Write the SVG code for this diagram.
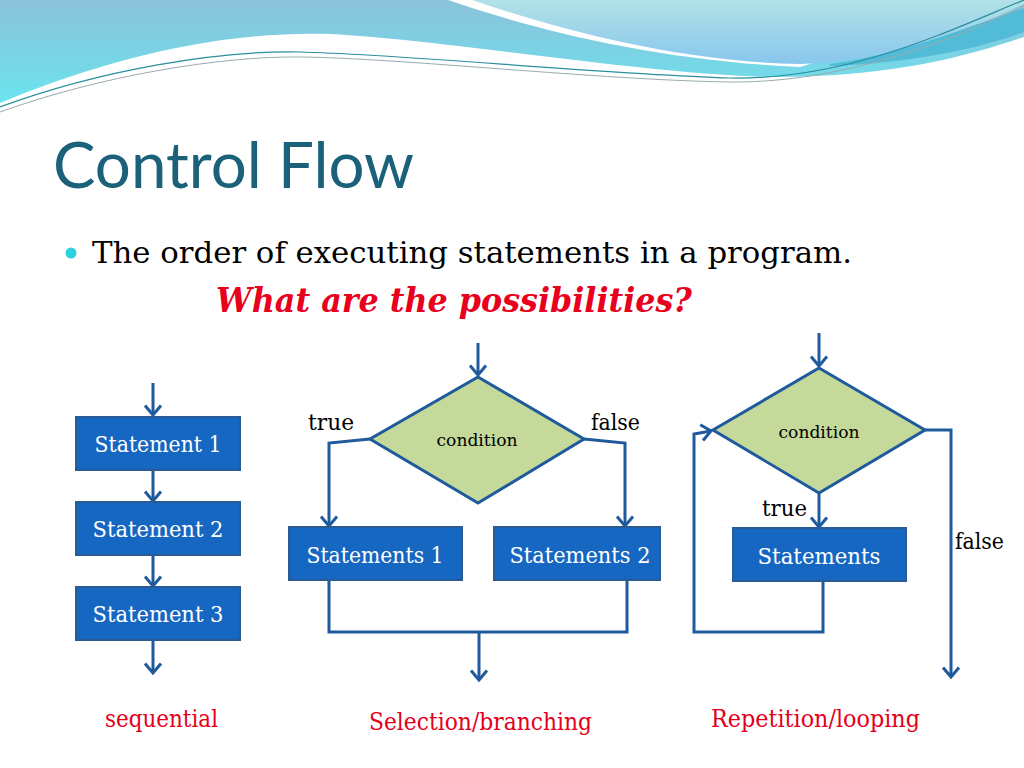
<svg xmlns="http://www.w3.org/2000/svg" width="1024" height="768" viewBox="0 0 1024 768">
  <defs>
    <linearGradient id="gBlue" x1="0" y1="0" x2="0" y2="1">
      <stop offset="0" stop-color="#8bc2da"/>
      <stop offset="1" stop-color="#6be3ee"/>
    </linearGradient>
    <linearGradient id="gLight" x1="0" y1="0" x2="0" y2="1">
      <stop offset="0" stop-color="#b2e2e6"/>
      <stop offset="1" stop-color="#88c6ee"/>
    </linearGradient>
    <marker id="arr" viewBox="-12 -10 14 20" markerWidth="14" markerHeight="20" refX="0" refY="0" orient="auto" markerUnits="userSpaceOnUse">
      <path d="M -9.5,-8 L 0,0 L -9.5,8" fill="none" stroke="#1f5a9c" stroke-width="3" stroke-linejoin="miter"/>
    </marker>
    <style>
      .box { fill: #1667c1; stroke: #2a5b93; stroke-width: 2; }
      .dia { fill: #c5d99b; stroke: #1f5a9c; stroke-width: 3; stroke-linejoin: miter; }
      .con { fill: none; stroke: #1f5a9c; stroke-width: 3; }
      .serif { font-family: "DejaVu Serif", "Liberation Serif", serif; }
      .btxt { font-family: "DejaVu Serif", "Liberation Serif", serif; font-size: 23px; fill: #ffffff; text-anchor: middle; }
      .cond { font-family: "DejaVu Serif", "Liberation Serif", serif; font-size: 17px; fill: #000000; text-anchor: middle; }
      .lbl { font-family: "DejaVu Serif", "Liberation Serif", serif; font-size: 23px; fill: #000000; }
      .red { font-family: "DejaVu Serif", "Liberation Serif", serif; font-size: 24px; fill: #e4001b; }
    </style>
  </defs>

  <rect width="1024" height="768" fill="#ffffff"/>

  <!-- header waves -->
  <g id="header">
    <path d="M0,0 L1024,0 L1024,37 C950,62 880,76 780,77 C650,76 450,40 330,34 C200,30 80,70 0,103 Z" fill="url(#gBlue)"/>
    <path d="M448,0 C530,28 650,60 800,67 L1024,0 Z" fill="#ffffff"/>
    <path d="M472,0 C560,30 680,62 800,64 C900,62 980,25 1024,4 L1024,0 Z" fill="url(#gLight)"/>
    <path d="M830,64 C900,55 970,26 1024,8 L1024,32 C970,52 900,63 830,66 Z" fill="#52bcd8"/>
    <path d="M0,107 C100,70 220,50 300,52 C400,54 600,74 730,78 C850,80 950,30 1024,0" fill="none" stroke="#2a8e9c" stroke-width="1.2"/>
    <path d="M0,112 C100,76 220,56 300,57 C400,58 600,80 730,82 C850,83 960,36 1024,6" fill="none" stroke="#9aaab0" stroke-width="1"/>
  </g>

  <!-- title and bullet -->
  <text id="title" x="53" y="188" font-family="Lato, 'Open Sans', sans-serif" font-size="64" fill="#1a6179" textLength="361" lengthAdjust="spacingAndGlyphs">Control Flow</text>
  <circle cx="71" cy="253" r="5.5" fill="#2fd0e0"/>
  <text class="serif" x="92" y="263" font-size="30" fill="#000000" textLength="760" lengthAdjust="spacingAndGlyphs">The order of executing statements in a program.</text>
  <text class="serif" x="216" y="312" font-size="33" font-weight="bold" font-style="italic" fill="#e8001c" textLength="476" lengthAdjust="spacingAndGlyphs">What are the possibilities?</text>

  <!-- connectors -->
  <g id="connectors">
    <line class="con" x1="153" y1="383" x2="153" y2="415" marker-end="url(#arr)"/>
    <line class="con" x1="153" y1="471" x2="153" y2="501" marker-end="url(#arr)"/>
    <line class="con" x1="153" y1="556" x2="153" y2="586" marker-end="url(#arr)"/>
    <line class="con" x1="153" y1="641" x2="153" y2="673" marker-end="url(#arr)"/>

    <line class="con" x1="478" y1="343" x2="478" y2="375" marker-end="url(#arr)"/>
    <polyline class="con" points="370,439 329,443 329,526" marker-end="url(#arr)"/>
    <polyline class="con" points="584,439 625,443 625,526" marker-end="url(#arr)"/>
    <polyline class="con" points="329,581 329,632 627,632 627,581"/>
    <line class="con" x1="479" y1="632" x2="479" y2="680" marker-end="url(#arr)"/>

    <line class="con" x1="819" y1="333" x2="819" y2="366" marker-end="url(#arr)"/>
    <line class="con" x1="819" y1="493" x2="819" y2="527" marker-end="url(#arr)"/>
    <polyline class="con" points="823,582 823,632 694,632 694,434 711,431" marker-end="url(#arr)"/>
    <polyline class="con" points="925,430 951,430 951,677" marker-end="url(#arr)"/>
  </g>

  <!-- sequential -->
  <g id="seq1"><rect class="box" x="76" y="417" width="164" height="53"/><text class="btxt" x="158" y="452" textLength="127" lengthAdjust="spacingAndGlyphs">Statement 1</text></g>
  <g id="seq2"><rect class="box" x="76" y="502" width="164" height="53"/><text class="btxt" x="158" y="537" textLength="131" lengthAdjust="spacingAndGlyphs">Statement 2</text></g>
  <g id="seq3"><rect class="box" x="76" y="587" width="164" height="53"/><text class="btxt" x="158" y="622" textLength="131" lengthAdjust="spacingAndGlyphs">Statement 3</text></g>

  <!-- selection -->
  <g id="selCond"><polygon class="dia" points="478,377 584,439 478,503 370,439"/><text class="cond" x="477" y="446" textLength="81" lengthAdjust="spacingAndGlyphs">condition</text></g>
  <g id="selS1"><rect class="box" x="289" y="527" width="173" height="53"/><text class="btxt" x="375" y="563" textLength="137" lengthAdjust="spacingAndGlyphs">Statements 1</text></g>
  <g id="selS2"><rect class="box" x="494" y="527" width="166" height="53"/><text class="btxt" x="580" y="563" textLength="141" lengthAdjust="spacingAndGlyphs">Statements 2</text></g>

  <!-- loop -->
  <g id="loopCond"><polygon class="dia" points="819,368 925,430 819,493 713,430"/><text class="cond" x="819" y="438" textLength="81" lengthAdjust="spacingAndGlyphs">condition</text></g>
  <g id="loopS"><rect class="box" x="733" y="528" width="173" height="53"/><text class="btxt" x="819" y="564" textLength="123" lengthAdjust="spacingAndGlyphs">Statements</text></g>

  <!-- labels -->
  <g id="labels">
    <text class="lbl" x="308" y="430" textLength="46" lengthAdjust="spacingAndGlyphs">true</text>
    <text class="lbl" x="591" y="430" textLength="49" lengthAdjust="spacingAndGlyphs">false</text>
    <text class="lbl" x="762" y="516" textLength="45" lengthAdjust="spacingAndGlyphs">true</text>
    <text class="lbl" x="955" y="549" textLength="49" lengthAdjust="spacingAndGlyphs">false</text>
    <text class="red" x="105" y="727" textLength="113" lengthAdjust="spacingAndGlyphs">sequential</text>
    <text class="red" x="369" y="730" textLength="223" lengthAdjust="spacingAndGlyphs">Selection/branching</text>
    <text class="red" x="711" y="727" textLength="209" lengthAdjust="spacingAndGlyphs">Repetition/looping</text>
  </g>
</svg>
